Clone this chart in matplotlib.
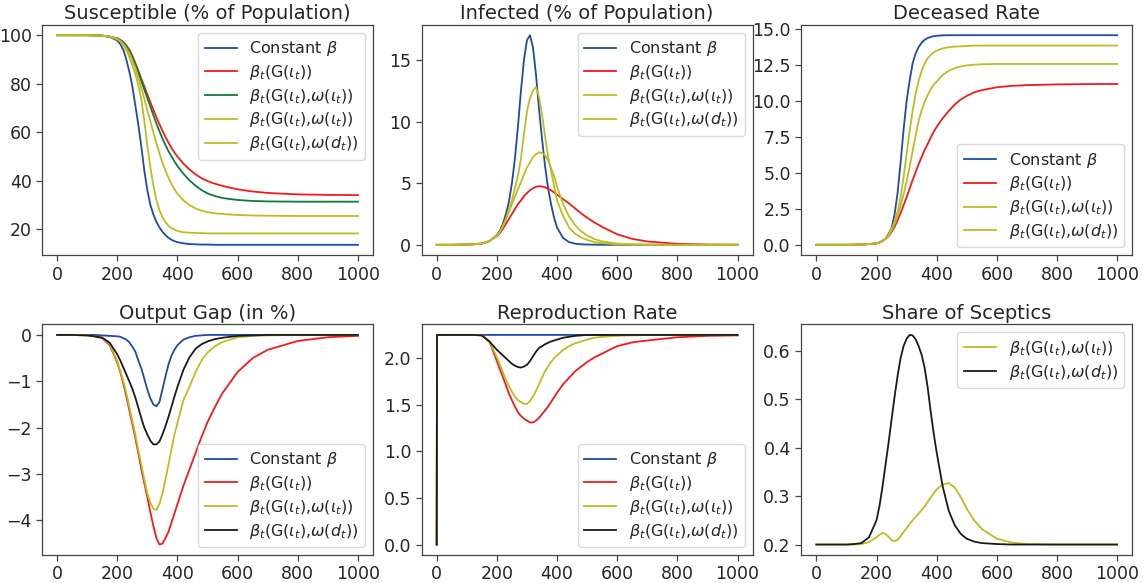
import matplotlib

matplotlib.use("Agg")
import matplotlib.pyplot as plt


OUTPUT_PNG = "out.png"

# time grid (days) shared by every series
T = [0, 1, 50, 100, 125,
     150, 175, 200,
     210, 220, 230, 240, 250, 260, 270, 280, 290, 300,
     310, 320, 330, 340, 350, 360, 370, 380, 390, 400,
     420, 440, 460, 480, 500,
     525, 550,
     600, 650, 700,
     800, 900, 1000]

LBL_CONST = r"Constant $\beta$"
LBL_G = r"$\beta_t$(G($\iota_t$))"
LBL_GW_I = r"$\beta_t$(G($\iota_t$),$\omega$($\iota_t$))"
LBL_GW_D = r"$\beta_t$(G($\iota_t$),$\omega$($d_t$))"

# Susceptible (% of population)
S_CONST = [100, 100, 100, 100, 100, 99.8, 99.3, 97.8,
           96.3, 94, 90, 85, 79, 71, 63, 54, 44, 36,
           30, 26, 23, 20.7, 18.9, 17.5, 16.4, 15.6, 15.0, 14.6,
           14.1, 13.8, 13.7, 13.6, 13.6, 13.5, 13.5, 13.5, 13.5, 13.5, 13.5, 13.5, 13.5]
S_G = [100, 100, 100, 100, 99.9, 99.8, 99.4, 98.7,
       98.1, 97.2, 95.8, 94, 91.5, 88.5, 85.3, 82, 78.8, 75.5,
       72.3, 69.2, 66.2, 63.3, 60.6, 58, 55.7, 53.5, 51.6, 49.9,
       47, 44.6, 42.6, 41, 39.8, 38.7, 37.8, 36.4, 35.5, 34.9, 34.3, 34.1, 34.0]
S_GW_GREEN = [100, 100, 100, 100, 99.9, 99.8, 99.4, 98.6,
              97.9, 96.9, 95.4, 93.5, 91, 88, 84.6, 81, 77.5, 74,
              70.5, 67, 63.6, 60.4, 57.4, 54.7, 52.2, 50, 47.9, 46,
              42.8, 40.1, 37.9, 36.1, 34.7, 33.6, 32.8, 32, 31.6, 31.4, 31.3, 31.3, 31.3]
S_GW_I = [100, 100, 100, 100, 99.9, 99.8, 99.4, 98.5,
          97.6, 96.4, 94.7, 92.5, 89.7, 86.4, 82.5, 78.2, 73.6, 69,
          64.4, 59.9, 55.4, 51.3, 47.5, 44.2, 41.2, 38.6, 36.4, 34.6,
          31.8, 29.9, 28.5, 27.6, 27.0, 26.5, 26.2, 25.8, 25.6, 25.5, 25.4, 25.4, 25.4]
S_GW_D = [100, 100, 100, 100, 99.9, 99.8, 99.4, 98.3,
          97.3, 96, 93.9, 91, 87.6, 84, 79.5, 73.5, 64.5, 54.5,
          45.5, 38, 32, 27.8, 24.9, 22.9, 21.4, 20.4, 19.7, 19.2,
          18.7, 18.5, 18.4, 18.3, 18.2, 18.2, 18.2, 18.2, 18.2, 18.2, 18.2, 18.2, 18.2]

# Infected (% of population)
I_CONST = [0, 0, 0, 0.02, 0.05, 0.1, 0.3, 0.8,
           1.15, 1.7, 2.5, 3.5, 5.0, 7.0, 9.6, 12.5, 15.0, 16.6,
           17.0, 16.0, 13.8, 11.0, 8.6, 6.4, 4.6, 3.3, 2.2, 1.4,
           0.55, 0.22, 0.09, 0.04, 0.02, 0.01, 0, 0, 0, 0, 0, 0, 0]
I_G = [0, 0, 0, 0.02, 0.05, 0.1, 0.3, 0.7,
       0.95, 1.3, 1.7, 2.1, 2.5, 2.9, 3.3, 3.6, 3.95, 4.2,
       4.42, 4.58, 4.7, 4.75, 4.73, 4.66, 4.55, 4.42, 4.25, 4.07,
       3.7, 3.35, 2.95, 2.55, 2.2, 1.8, 1.45, 0.85, 0.48, 0.27, 0.08, 0.02, 0.01]
I_GW_I = [0, 0, 0, 0.02, 0.05, 0.1, 0.3, 0.75,
          1.05, 1.5, 2.05, 2.7, 3.3, 3.9, 4.5, 5.1, 5.7, 6.25,
          6.7, 7.1, 7.35, 7.5, 7.45, 7.25, 6.85, 6.2, 5.6, 4.7,
          3.3, 2.3, 1.6, 1.1, 0.75, 0.45, 0.28, 0.1, 0.03, 0.01, 0, 0, 0]
I_GW_D = [0, 0, 0, 0.02, 0.05, 0.1, 0.3, 0.75,
          1.05, 1.5, 2.1, 2.9, 3.6, 4.6, 5.6, 7.0, 9.0, 10.8,
          11.9, 12.5, 12.8, 12.0, 10.6, 8.8, 7.2, 6.0, 4.8, 3.6,
          2.35, 1.4, 0.9, 0.6, 0.4, 0.22, 0.13, 0.04, 0.02, 0.01, 0, 0, 0]

# Deceased rate
D_CONST = [0, 0, 0, 0, 0.01, 0.02, 0.05, 0.1,
           0.17, 0.28, 0.45, 0.75, 1.15, 2.1, 3.6, 5.7, 8.0, 10.0,
           11.4, 12.6, 13.3, 13.75, 14.05, 14.25, 14.37, 14.45, 14.5, 14.53,
           14.56, 14.57, 14.57, 14.57, 14.57, 14.57, 14.57, 14.57, 14.57, 14.57, 14.57, 14.57, 14.57]
D_G = [0, 0, 0, 0, 0.01, 0.02, 0.05, 0.1,
       0.16, 0.25, 0.4, 0.6, 0.9, 1.25, 1.7, 2.2, 2.75, 3.3,
       3.9, 4.5, 5.05, 5.6, 6.1, 6.6, 7.0, 7.45, 7.85, 8.2,
       8.8, 9.3, 9.75, 10.1, 10.35, 10.6, 10.75, 10.95, 11.05, 11.1, 11.15, 11.17, 11.18]
D_GW_I = [0, 0, 0, 0, 0.01, 0.02, 0.05, 0.1,
          0.16, 0.27, 0.42, 0.65, 1.0, 1.45, 2.0, 2.7, 3.5, 4.4,
          5.4, 6.5, 7.6, 8.6, 9.35, 9.95, 10.4, 10.8, 11.15, 11.35,
          11.8, 12.1, 12.28, 12.4, 12.47, 12.52, 12.55, 12.57, 12.57, 12.57, 12.57, 12.57, 12.57]
D_GW_D = [0, 0, 0, 0, 0.01, 0.02, 0.05, 0.1,
          0.17, 0.28, 0.44, 0.7, 1.1, 1.6, 2.3, 3.3, 4.7, 6.3,
          7.9, 9.3, 10.5, 11.4, 12.1, 12.6, 12.95, 13.2, 13.38, 13.5,
          13.65, 13.73, 13.78, 13.8, 13.82, 13.84, 13.85, 13.85, 13.85, 13.85, 13.85, 13.85, 13.85]

# Output gap (in %)
Y_CONST = [0, 0, 0, 0, 0, -0.01, -0.02, -0.03,
           -0.04, -0.07, -0.1, -0.16, -0.25, -0.36, -0.55, -0.72, -0.95, -1.18,
           -1.37, -1.5, -1.54, -1.45, -1.18, -0.9, -0.64, -0.45, -0.32, -0.22,
           -0.1, -0.05, -0.02, -0.01, 0, 0, 0, 0, 0, 0, 0, 0, 0]
Y_G = [0, 0, 0, -0.01, -0.03, -0.07, -0.22, -0.6,
       -0.8, -1.05, -1.32, -1.62, -1.92, -2.22, -2.55, -2.9, -3.2, -3.5,
       -3.82, -4.12, -4.38, -4.52, -4.5, -4.38, -4.25, -4.05, -3.85, -3.65,
       -3.25, -2.9, -2.55, -2.2, -1.88, -1.55, -1.25, -0.8, -0.5, -0.32, -0.13, -0.05, -0.02]
Y_GW_I = [0, 0, 0, -0.01, -0.03, -0.06, -0.2, -0.57,
          -0.77, -1.0, -1.25, -1.55, -1.85, -2.15, -2.48, -2.8, -3.12, -3.42,
          -3.62, -3.75, -3.77, -3.65, -3.42, -3.12, -2.8, -2.47, -2.15, -1.9,
          -1.4, -1.12, -0.8, -0.55, -0.38, -0.24, -0.15, -0.05, -0.02, -0.01, 0, 0, 0]
Y_GW_D = [0, 0, 0, -0.01, -0.03, -0.06, -0.17, -0.42,
          -0.55, -0.7, -0.85, -1.0, -1.16, -1.35, -1.57, -1.8, -2.0, -2.15,
          -2.28, -2.36, -2.36, -2.3, -2.15, -1.97, -1.77, -1.55, -1.33, -1.12,
          -0.75, -0.48, -0.3, -0.2, -0.14, -0.09, -0.06, -0.02, -0.01, 0, 0, 0, 0]

# Reproduction rate
R_CONST = [0] + [2.25] * 40
R_G = [0, 2.25, 2.25, 2.25, 2.25, 2.245, 2.18, 1.97,
       1.88, 1.8, 1.71, 1.62, 1.55, 1.48, 1.42, 1.38, 1.35, 1.33,
       1.31, 1.31, 1.33, 1.36, 1.4, 1.44, 1.48, 1.53, 1.58, 1.63,
       1.72, 1.79, 1.86, 1.91, 1.96, 2.01, 2.05, 2.13, 2.17, 2.19, 2.225, 2.24, 2.245]
R_GW_I = [0, 2.25, 2.25, 2.25, 2.25, 2.245, 2.18, 2.01,
          1.93, 1.85, 1.77, 1.7, 1.64, 1.59, 1.55, 1.53, 1.51, 1.51,
          1.54, 1.59, 1.65, 1.72, 1.79, 1.86, 1.91, 1.96, 2.0, 2.03,
          2.09, 2.13, 2.16, 2.18, 2.2, 2.22, 2.23, 2.24, 2.245, 2.25, 2.25, 2.25, 2.25]
R_GW_D = [0, 2.25, 2.25, 2.25, 2.25, 2.245, 2.18, 2.09,
          2.06, 2.03, 2.0, 1.97, 1.94, 1.92, 1.905, 1.9, 1.91, 1.93,
          1.97, 2.02, 2.07, 2.11, 2.13, 2.15, 2.165, 2.18, 2.19, 2.2,
          2.22, 2.23, 2.24, 2.245, 2.25, 2.25, 2.25, 2.25, 2.25, 2.25, 2.25, 2.25, 2.25]

# Share of sceptics
P_GW_I = [0.2, 0.2, 0.2, 0.2, 0.2, 0.201, 0.205, 0.215,
          0.22, 0.224, 0.222, 0.216, 0.209, 0.207, 0.21, 0.217, 0.226, 0.234,
          0.242, 0.25, 0.257, 0.264, 0.271, 0.279, 0.288, 0.297, 0.306, 0.314,
          0.324, 0.327, 0.318, 0.298, 0.274, 0.25, 0.232, 0.212, 0.204, 0.201, 0.2, 0.2, 0.2]
P_GW_D = [0.2, 0.2, 0.2, 0.2, 0.201, 0.203, 0.215, 0.25,
          0.28, 0.32, 0.365, 0.41, 0.458, 0.505, 0.548, 0.585, 0.61, 0.625,
          0.633, 0.632, 0.624, 0.61, 0.592, 0.565, 0.525, 0.475, 0.43, 0.39,
          0.32, 0.27, 0.24, 0.222, 0.212, 0.206, 0.203, 0.201, 0.2, 0.2, 0.2, 0.2, 0.2]

BLUE = "#1f4aa8"
RED = "#f41a1a"
GREEN = "#0b7a3a"
OLIVE = "#bcbd22"
BLACK = "#1a1a1a"

TEXT = "#262626"
EDGE = "#444444"


def draw_panel(ax, title, series, legend_loc):
    for values, color, label in series:
        ax.plot(T, values, color=color, lw=1.3, label=label)
    ax.set_title(title, fontsize=14, color=TEXT, pad=4)
    ax.set_xticks([0, 200, 400, 600, 800, 1000])
    ax.tick_params(labelsize=12.5, colors=TEXT, direction="out", length=4, width=0.9, color=EDGE)
    for sp in ax.spines.values():
        sp.set_color(EDGE)
        sp.set_linewidth(0.9)
    ax.legend(loc=legend_loc, fontsize=11.5, labelcolor=TEXT, borderaxespad=0.5,
              labelspacing=0.3, handlelength=2.0, framealpha=1.0, edgecolor="0.85")


def build_chart():
    fig, axes = plt.subplots(2, 3, figsize=(11.46, 5.83), dpi=100)
    fig.subplots_adjust(left=0.0367, right=0.988, top=0.9576, bottom=0.048,
                        wspace=0.147, hspace=0.30)

    draw_panel(axes[0, 0], "Susceptible (% of Population)", [
        (S_CONST, BLUE, LBL_CONST),
        (S_G, RED, LBL_G),
        (S_GW_GREEN, GREEN, LBL_GW_I),
        (S_GW_I, OLIVE, LBL_GW_I),
        (S_GW_D, OLIVE, LBL_GW_D),
    ], "upper right")
    axes[0, 0].set_yticks([20, 40, 60, 80, 100])

    draw_panel(axes[0, 1], "Infected (% of Population)", [
        (I_CONST, BLUE, LBL_CONST),
        (I_G, RED, LBL_G),
        (I_GW_I, OLIVE, LBL_GW_I),
        (I_GW_D, OLIVE, LBL_GW_D),
    ], "upper right")

    draw_panel(axes[0, 2], "Deceased Rate", [
        (D_CONST, BLUE, LBL_CONST),
        (D_G, RED, LBL_G),
        (D_GW_I, OLIVE, LBL_GW_I),
        (D_GW_D, OLIVE, LBL_GW_D),
    ], "lower right")
    axes[0, 2].set_yticks([0, 2.5, 5, 7.5, 10, 12.5, 15])
    axes[0, 2].yaxis.set_major_formatter(matplotlib.ticker.FormatStrFormatter("%.1f"))

    draw_panel(axes[1, 0], "Output Gap (in %)", [
        (Y_CONST, BLUE, LBL_CONST),
        (Y_G, RED, LBL_G),
        (Y_GW_I, OLIVE, LBL_GW_I),
        (Y_GW_D, BLACK, LBL_GW_D),
    ], "lower right")

    draw_panel(axes[1, 1], "Reproduction Rate", [
        (R_CONST, BLUE, LBL_CONST),
        (R_G, RED, LBL_G),
        (R_GW_I, OLIVE, LBL_GW_I),
        (R_GW_D, BLACK, LBL_GW_D),
    ], "lower right")

    draw_panel(axes[1, 2], "Share of Sceptics", [
        (P_GW_I, OLIVE, LBL_GW_I),
        (P_GW_D, BLACK, LBL_GW_D),
    ], "upper right")

    fig.savefig(OUTPUT_PNG, dpi=100)
    plt.close(fig)


if __name__ == "__main__":
    build_chart()
